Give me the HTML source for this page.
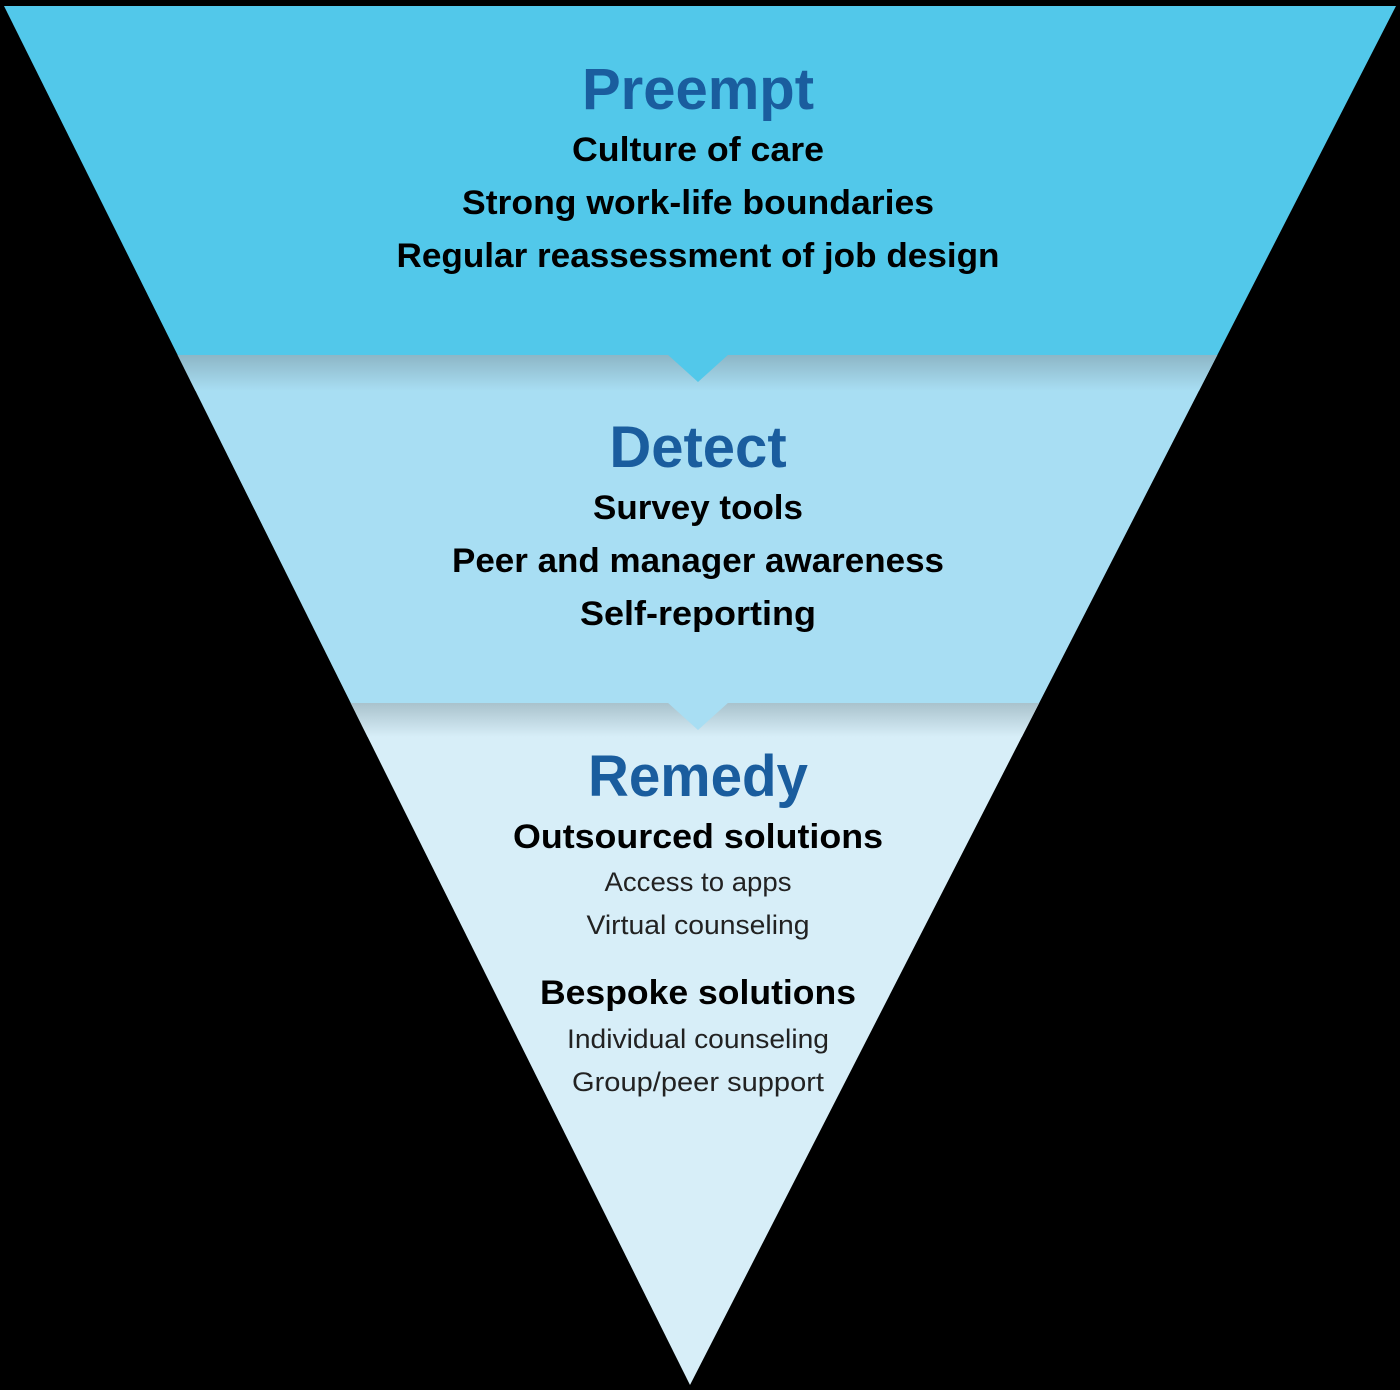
<!DOCTYPE html>
<html><head><style>html,body{margin:0;padding:0;background:#000;}svg{display:block}</style></head>
<body>
<svg width="1400" height="1390" viewBox="0 0 1400 1390" xmlns="http://www.w3.org/2000/svg">
<defs>
<clipPath id="tri"><polygon points="4,6 1396,6 690,1385"/></clipPath>
<linearGradient id="g1" x1="0" y1="0" x2="0" y2="1"><stop offset="0" stop-color="#8db6c6"/><stop offset="1" stop-color="#a8def3"/></linearGradient>
<linearGradient id="g2" x1="0" y1="0" x2="0" y2="1"><stop offset="0" stop-color="#a9c2cc"/><stop offset="1" stop-color="#d7eef8"/></linearGradient>
</defs>
<g clip-path="url(#tri)">
<rect x="0" y="0" width="1400" height="355" fill="#52c8ea"/>
<rect x="0" y="355" width="1400" height="348" fill="#a8def3"/>
<rect x="0" y="355" width="1400" height="36" fill="url(#g1)"/>
<rect x="0" y="703" width="1400" height="700" fill="#d7eef8"/>
<rect x="0" y="703" width="1400" height="34" fill="url(#g2)"/>
<polygon points="667,354 729,354 698,382" fill="#52c8ea"/>
<polygon points="667,702 729,702 698,730" fill="#a8def3"/>
</g>
<g font-family="Liberation Sans, sans-serif" text-anchor="middle" font-weight="bold">
<text x="698" y="109" font-size="58" fill="#1a5d9e">Preempt</text>
<text x="698" y="161" font-size="34" fill="#000" textLength="252" lengthAdjust="spacingAndGlyphs">Culture of care</text>
<text x="698" y="214" font-size="34" fill="#000" textLength="472" lengthAdjust="spacingAndGlyphs">Strong work-life boundaries</text>
<text x="698" y="267" font-size="34" fill="#000" textLength="603" lengthAdjust="spacingAndGlyphs">Regular reassessment of job design</text>
<text x="698" y="467" font-size="58" fill="#1a5d9e">Detect</text>
<text x="698" y="519" font-size="34" fill="#000" textLength="210" lengthAdjust="spacingAndGlyphs">Survey tools</text>
<text x="698" y="572" font-size="34" fill="#000" textLength="492" lengthAdjust="spacingAndGlyphs">Peer and manager awareness</text>
<text x="698" y="625" font-size="34" fill="#000" textLength="236" lengthAdjust="spacingAndGlyphs">Self-reporting</text>
<text x="698" y="796" font-size="58" fill="#1a5d9e" textLength="220" lengthAdjust="spacingAndGlyphs">Remedy</text>
<text x="698" y="848" font-size="34" fill="#000" textLength="370" lengthAdjust="spacingAndGlyphs">Outsourced solutions</text>
<text x="698" y="1004" font-size="34" fill="#000" textLength="316" lengthAdjust="spacingAndGlyphs">Bespoke solutions</text>
</g>
<g font-family="Liberation Sans, sans-serif" text-anchor="middle" font-size="27" fill="#222">
<text x="698" y="891" textLength="187" lengthAdjust="spacingAndGlyphs">Access to apps</text>
<text x="698" y="934" textLength="223" lengthAdjust="spacingAndGlyphs">Virtual counseling</text>
<text x="698" y="1048" textLength="262" lengthAdjust="spacingAndGlyphs">Individual counseling</text>
<text x="698" y="1091" textLength="252" lengthAdjust="spacingAndGlyphs">Group/peer support</text>
</g>
</svg>
</body></html>
